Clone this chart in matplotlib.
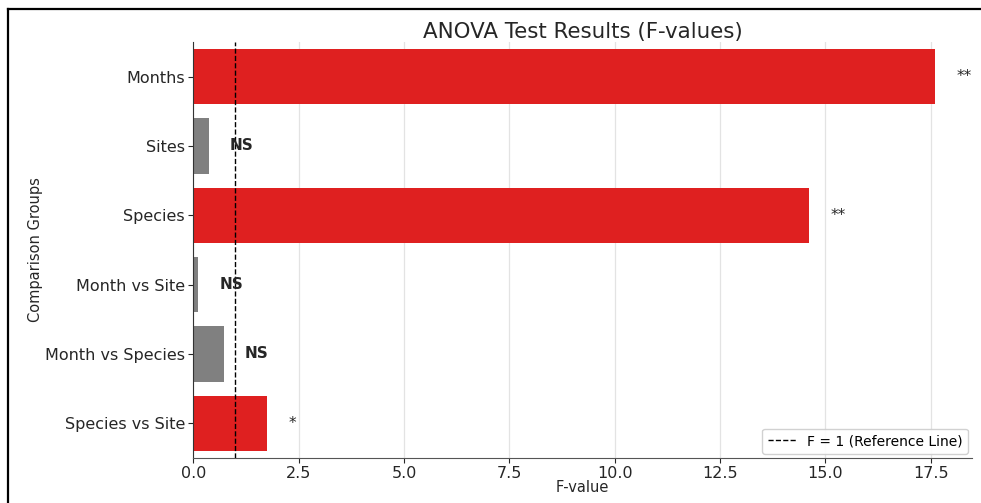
import matplotlib
matplotlib.use("Agg")
import matplotlib.pyplot as plt
from matplotlib.lines import Line2D

# ANOVA results
groups = ["Months", "Sites", "Species", "Month vs Site", "Month vs Species", "Species vs Site"]
f_values = [17.6, 0.37, 14.62, 0.12, 0.72, 1.76]
signif = ["**", "NS", "**", "NS", "NS", "*"]

RED = "#df2020"   # red at 0.75 saturation
GRAY = "#808080"
TEXT = "#262626"


def plot_anova():
    fig = plt.figure(figsize=(9.81, 5.03), dpi=100)
    ax = fig.add_axes([0.197, 0.0895, 0.794, 0.827])

    colors = [GRAY if s == "NS" else RED for s in signif]
    ypos = list(range(len(groups)))
    ax.barh(ypos, f_values, height=0.8, color=colors, zorder=2)

    ax.axvline(1, color="black", linestyle="--", linewidth=1.0, zorder=3,
               label="F = 1 (Reference Line)")

    for y, v, s in zip(ypos, f_values, signif):
        weight = "bold" if s == "NS" else "normal"
        ax.text(v + 0.5, y, s, ha="left", va="center", fontsize=11,
                fontweight=weight, color=TEXT)

    ax.set_yticks(ypos)
    ax.set_yticklabels(groups)
    ax.set_ylim(len(groups) - 0.5, -0.5)
    ax.set_xlim(0, 18.48)

    ax.set_title("ANOVA Test Results (F-values)", fontsize=15.4, color=TEXT, pad=3)
    ax.set_xlabel("F-value", fontsize=10.5, color=TEXT, labelpad=-1)
    ax.set_ylabel("Comparison Groups", fontsize=10.5, color=TEXT, labelpad=1.5)
    ax.tick_params(axis="both", labelsize=11.5, colors=TEXT, length=3.5, width=0.8, pad=2.5)

    ax.grid(axis="x", color="#e3e3e3", linewidth=0.9, zorder=0)
    ax.set_axisbelow(True)
    for side in ("top", "right"):
        ax.spines[side].set_visible(False)
    ax.spines["left"].set_color("#333333")
    ax.spines["bottom"].set_color("#555555")

    ax.legend(loc="lower right", fontsize=10, frameon=True, framealpha=0.9,
              edgecolor="#cccccc", handlelength=2.0, borderaxespad=0.3)

    # frame drawn round the figure (left and top edges)
    fig.add_artist(Line2D([8 / 981, 8 / 981], [0, 1 - 9 / 503], transform=fig.transFigure,
                          color="black", linewidth=1.6))
    fig.add_artist(Line2D([8 / 981, 1], [1 - 9 / 503, 1 - 9 / 503], transform=fig.transFigure,
                          color="black", linewidth=1.6))

    fig.savefig("out.png", dpi=100)
    plt.close(fig)


if __name__ == "__main__":
    plot_anova()
